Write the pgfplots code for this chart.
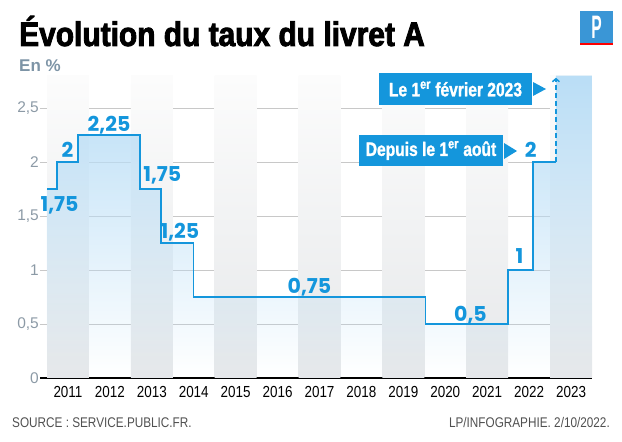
\documentclass[border=0pt]{standalone}
\usepackage{pgfplots}
\pgfplotsset{compat=1.18}
\usepackage{graphicx}
\usepackage{fontspec}
\usetikzlibrary{fadings,arrows.meta}
\setmainfont{Liberation Sans}
\newfontfamily\condfont[FakeStretch=0.8,FakeBold=1.2]{Liberation Sans}
\newfontfamily\titlefont[FakeStretch=0.88,FakeBold=2.5]{Liberation Sans}
\newfontfamily\tickfont[FakeStretch=0.84]{Liberation Sans}
\newfontfamily\valfont{Poppins}
\definecolor{lpblue}{RGB}{20,150,220}
\definecolor{fillblue}{RGB}{186,222,246}
\definecolor{colgray}{RGB}{230,232,234}
\definecolor{colmid}{RGB}{243,244,245}
\definecolor{coltop}{RGB}{252,252,252}
\definecolor{gridgray}{RGB}{200,200,200}
\definecolor{tickgray}{RGB}{140,154,166}
\definecolor{engray}{RGB}{125,148,166}
\definecolor{logoblue}{RGB}{58,150,214}
\definecolor{footgray}{RGB}{80,80,80}
\tikzfading[name=fadedown, top color=transparent!0, middle color=transparent!30, bottom color=transparent!100]
\begin{document}
\begin{tikzpicture}
\begin{axis}[
  anchor=south west,
  scale only axis, width=552pt, height=307.8pt,
  xmin=-0.1673, xmax=13, ymin=0, ymax=2.85,
  clip=false,
  axis x line*=bottom, axis y line*=left,
  y axis line style={draw=none},
  x axis line style={black, line width=1.6pt, -},
  major tick length=0pt,
  ytick={0,0.5,1,1.5,2,2.5},
  yticklabels={0,{0,5},1,{1,5},2,{2,5}},
  xtick={0.5,1.5,2.5,3.5,4.5,5.5,6.5,7.5,8.5,9.5,10.5,11.5,12.5},
  xticklabels={2011,2012,2013,2014,2015,2016,2017,2018,2019,2020,2021,2022,2023},
  ymajorgrids,
  grid style={gridgray, line width=0.7pt},
  yticklabel style={text=tickgray, font=\fontsize{15.5}{15.5}\selectfont, inner sep=1pt, anchor=east},
  xticklabel style={text=black, font=\tickfont\fontsize{16}{16}\selectfont, anchor=base, yshift=-20pt},
]
% alternating column background
\fill[bottom color=colgray, middle color=colmid, top color=coltop] (axis cs:0,0) rectangle (axis cs:1,2.8);
\fill[bottom color=colgray, middle color=colmid, top color=coltop] (axis cs:2,0) rectangle (axis cs:3,2.8);
\fill[bottom color=colgray, middle color=colmid, top color=coltop] (axis cs:4,0) rectangle (axis cs:5,2.8);
\fill[bottom color=colgray, middle color=colmid, top color=coltop] (axis cs:6,0) rectangle (axis cs:7,2.8);
\fill[bottom color=colgray, middle color=colmid, top color=coltop] (axis cs:8,0) rectangle (axis cs:9,2.8);
\fill[bottom color=colgray, middle color=colmid, top color=coltop] (axis cs:10,0) rectangle (axis cs:11,2.8);
\fill[bottom color=colgray, middle color=colmid, top color=coltop] (axis cs:12,0) rectangle (axis cs:13,2.8);
% blue area
\addplot[const plot, draw=none, fill=fillblue, path fading=fadedown] coordinates {(0,1.75)(0.24,2)(0.74,2.25)(2.22,1.75)(2.72,1.25)(3.49,0.75)(9.03,0.5)(11.0,1)(11.59,2)(12.14,2.8)(13,2.8)} \closedcycle;
% step line
\addplot[const plot, lpblue, line width=1.5pt] coordinates {(0,1.75)(0.24,2)(0.74,2.25)(2.22,1.75)(2.72,1.25)(3.49,0.75)(9.03,0.5)(11.0,1)(11.59,2)(12.14,2)};
\addplot[lpblue, line width=1.5pt, dash pattern=on 5pt off 3pt, -{Straight Barb[length=3pt,width=7pt]}] coordinates {(12.14,2)(12.14,2.78)};
% value labels
\begin{scope}[every node/.style={anchor=base, inner sep=0, text=lpblue, font=\valfont\bfseries\fontsize{20.5}{20.5}\selectfont}]
\node at (axis cs:0.30,1.546) {1,75};
\node at (axis cs:0.49,2.046) {2};
\node at (axis cs:1.48,2.287) {2,25};
\node at (axis cs:2.75,1.815) {1,75};
\node at (axis cs:3.17,1.296) {1,25};
\node at (axis cs:6.26,0.787) {0,75};
\node at (axis cs:10.10,0.519) {0,5};
\node at (axis cs:11.27,1.056) {1};
\node at (axis cs:11.54,2.046) {2};
\end{scope}
\end{axis}
\begin{scope}[x=1pt, y=1pt, shift={(-40pt,378pt)}]
\path (0,0) rectangle (622,-442);
\node[anchor=base west, inner sep=0] at (19,-46) {\titlefont\bfseries\fontsize{34}{34}\selectfont Évolution du taux du livret A};
\node[anchor=base west, inner sep=0, text=engray] at (19,-72) {\bfseries\fontsize{17}{17}\selectfont En \%};
% logo
\fill[logoblue] (580,-11) rectangle (613,-43);
\fill[red] (580,-43) rectangle (613,-45.5);
\node[text=white, inner sep=0] at (596.5,-27) {\scalebox{0.6}[1.25]{\bfseries\fontsize{26}{26}\selectfont P}};
% callouts
\fill[lpblue] (359,-135) rectangle (503,-166);
\fill[lpblue] (504,-143) -- (517,-151) -- (504,-159) -- cycle;
\node[text=white, inner sep=0] at (431,-150.5) {\condfont\bfseries\fontsize{19.5}{19.5}\selectfont Depuis le 1\textsuperscript{er} août};
\fill[lpblue] (379,-73) rectangle (532,-105);
\fill[lpblue] (533,-82) -- (546,-89) -- (533,-96) -- cycle;
\node[text=white, inner sep=0] at (455.5,-89) {\condfont\bfseries\fontsize{19.5}{19.5}\selectfont Le 1\textsuperscript{er} février 2023};
% footer
\node[anchor=base west, inner sep=0, text=footgray] at (12,-428) {\tickfont\fontsize{14}{14}\selectfont SOURCE : SERVICE.PUBLIC.FR.};
\node[anchor=base east, inner sep=0, text=footgray] at (610,-428) {\tickfont\fontsize{14}{14}\selectfont LP/INFOGRAPHIE. 2/10/2022.};
\end{scope}
\end{tikzpicture}
\end{document}
